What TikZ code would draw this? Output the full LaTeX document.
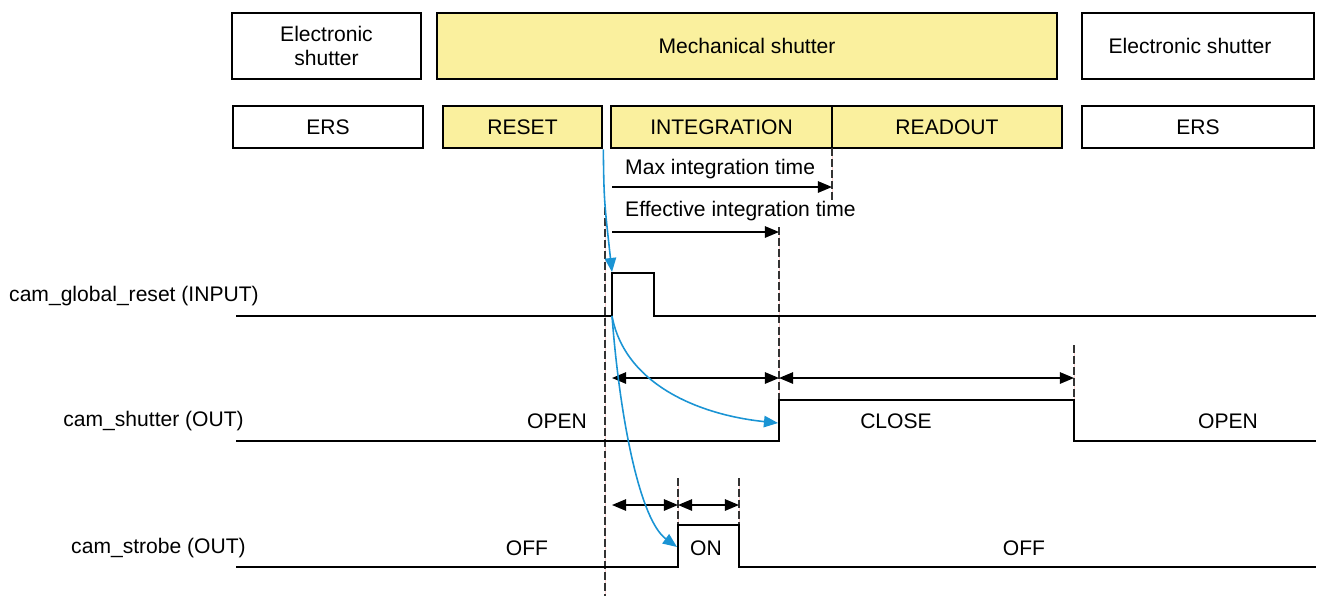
\documentclass[tikz,border=0pt]{standalone}
\usepackage{fontspec}
\setmainfont{Liberation Sans}
\usepackage{xcolor}
\usetikzlibrary{arrows.meta,positioning}

\definecolor{mechyellow}{RGB}{250,240,158}
\definecolor{linkblue}{RGB}{26,148,212}

\begin{document}
\begin{tikzpicture}[x=0.02cm, y=-0.02cm,
    font=\fontsize{12}{13.5}\selectfont,
    modebox/.style={draw, rectangle, line width=1.5pt, minimum height=1.32cm,
                    inner sep=0pt, align=center},
    phasebox/.style={draw, rectangle, line width=1.5pt, minimum height=0.84cm,
                     inner sep=0pt},
    mech/.style={fill=mechyellow},
    signal/.style={line width=1.6pt, line join=miter},
    cutline/.style={line width=0.8pt, dash pattern=on 4.5pt off 1.8pt, black!80},
    timespan/.style={line width=0.8pt, {Triangle[length=8pt,width=6.5pt]}-{Triangle[length=8pt,width=6.5pt]}},
    timeto/.style={line width=0.8pt, -{Triangle[length=8pt,width=6.5pt]}},
    link/.style={linkblue, line width=0.9pt, -{Triangle[length=8pt,width=6.5pt]}},
    sig/.style={anchor=east}
]
\useasboundingbox (0,0) rectangle (1318,596);

% shutter modes
\node[modebox, minimum width=3.78cm] (elec1) at (326.5,46) {Electronic\\shutter};
\node[modebox, mech, minimum width=12.4cm] (mechsh) at (747,46) {Mechanical shutter};
\node[modebox, minimum width=4.64cm] (elec2) at (1198,46) {Electronic shutter\hspace*{0.32cm}};

% sensor phases
\node[phasebox, minimum width=3.8cm] (ers1) at (328,127) {ERS};
\node[phasebox, mech, minimum width=3.18cm] (reset) at (522.5,127) {RESET};
\node[phasebox, mech, minimum width=4.42cm] (integ) at (721.5,127) {INTEGRATION};
\node[phasebox, mech, minimum width=4.6cm] (readout) at (947,127) {READOUT};
\node[phasebox, minimum width=4.64cm] (ers2) at (1198,127) {ERS};

% time marks
\coordinate (t0) at (612,0);
\coordinate (tS) at (678,0);
\coordinate (tF) at (739,0);
\coordinate (tE) at (779,0);
\coordinate (tM) at (832,0);
\coordinate (tC) at (1074,0);

% dashed marker lines
\foreach \x/\ya/\yb in {605/207/596, 832/148/200, 779/227/441, 1074/345/400,
                        678/478/525, 739/478/525}{
  \draw[pink!70, line width=0.5pt] (\x,\ya) -- (\x,\yb);
  \draw[cutline] (\x,\ya) -- (\x,\yb);
}

% integration times
\node[anchor=west] (maxlbl) at (619,169) {Max integration time};
\draw[timeto] (t0 |- 0,187) -- (tM |- 0,187);
\node[anchor=west] (efflbl) at (619,211) {Effective integration time};
\draw[timeto] (t0 |- 0,232) -- (tE |- 0,232);

% signal names
\node[sig] (resetsig) at (265,296) {cam\_global\_reset (INPUT)};
\node[sig] (shutsig) at (250,421) {cam\_shutter (OUT)};
\node[sig] (strobesig) at (252,548) {cam\_strobe (OUT)};

% waveforms
\draw[signal] (236,316) -- (612,316) -- (612,273) -- (654,273) -- (654,316) -- (1316,316);
\draw[signal] (236,441) -- (779,441) -- (779,400) -- (1074,400) -- (1074,441) -- (1316,441);
\draw[signal] (236,567) -- (678,567) -- (678,525) -- (739,525) -- (739,567) -- (1316,567);

% states
\node (open1) at (557,421) {OPEN};
\node (close) at (896,421) {CLOSE};
\node (open2) at (1228,421) {OPEN};
\node (off1) at (527,548) {OFF};
\node (on) at (706,548) {ON};
\node (off2) at (1024,548) {OFF};

% durations
\draw[timespan] (t0 |- 0,378) -- (tE |- 0,378);
\draw[timespan] (tE |- 0,378) -- (tC |- 0,378);
\draw[timespan] (t0 |- 0,505) -- (tS |- 0,505);
\draw[timespan] (tS |- 0,505) -- (tF |- 0,505);

% triggers
\coordinate (rise) at (612,316);
\draw[link] (reset.south east) .. controls (604,200) .. (612,272);
\draw[link] (rise) .. controls (625,385) and (700,415) .. (778,423);
\draw[link] (rise) .. controls (620,420) and (640,520) .. (677,547);
\end{tikzpicture}
\end{document}
